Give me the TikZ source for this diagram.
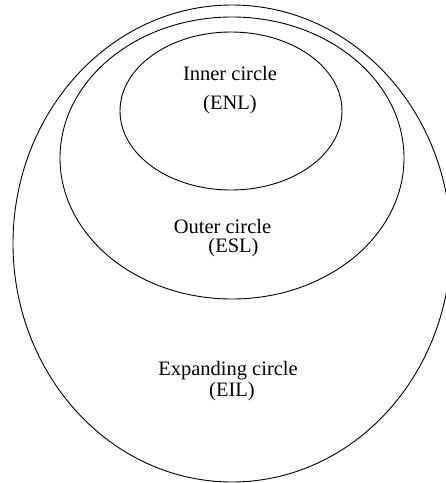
\documentclass[tikz,border=0pt]{standalone}
\usepackage{fontspec}
\setmainfont{Liberation Serif}
\begin{document}
\begin{tikzpicture}[x=1pt,y=-1pt,
  ring/.style={draw=black,line width=0.9pt},
  lbl/.style={inner sep=0pt,anchor=base,text height=13pt,text depth=3pt,
              font=\fontsize{20.5}{23}\selectfont}]
\useasboundingbox (0,0) rectangle (446,483);
\clip (0,0) rectangle (446,483);
\draw[ring] (232,243.5) ellipse [x radius=219, y radius=238.5];
\draw[ring] (232,158) ellipse [x radius=172, y radius=141];
\draw[ring] (231,111) ellipse [x radius=111, y radius=79];
\node[lbl] (inner) at (230,80) {Inner circle};
\node[lbl] (enl) at (230,109) {(ENL)};
\node[lbl] (outer) at (222.5,233.5) {Outer circle};
\node[lbl] (esl) at (233.5,252) {(ESL)};
\node[lbl] (exp) at (228,375) {Expanding circle};
\node[lbl] (eil) at (232,396) {(EIL)};
\end{tikzpicture}
\end{document}
